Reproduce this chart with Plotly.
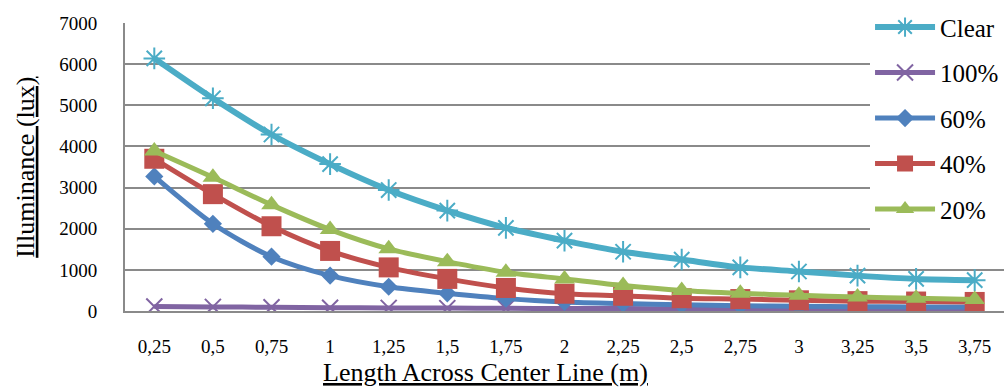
import plotly.graph_objects as go

categories = ["0,25", "0,5", "0,75", "1", "1,25", "1,5", "1,75", "2", "2,25",
              "2,5", "2,75", "3", "3,25", "3,5", "3,75"]
clear = [6140, 5170, 4290, 3570, 2940, 2440, 2020, 1710, 1440, 1250, 1060, 960, 860, 780, 750]
p100 = [110, 100, 90, 80, 75, 70, 65, 60, 60, 55, 55, 50, 50, 50, 50]
p60 = [3270, 2120, 1320, 860, 590, 430, 300, 220, 180, 150, 130, 115, 105, 100, 95]
p40 = [3700, 2840, 2060, 1460, 1060, 780, 560, 420, 370, 310, 290, 260, 240, 230, 220]
p20 = [3890, 3250, 2580, 1980, 1510, 1200, 940, 780, 620, 500, 430, 380, 340, 310, 280]

series = [
    ("Clear", clear, "#4BACC6", "asterisk-open", 18, 6),
    ("100%", p100, "#8064A2", "x-thin-open", 16, 5),
    ("60%", p60, "#4F81BD", "diamond", 14, 5),
    ("40%", p40, "#C0504D", "square", 20, 5),
    ("20%", p20, "#9BBB59", "triangle-up", 18, 5),
]

FONT = "Liberation Serif"

fig = go.Figure()
for i, (name, vals, col, sym, sz, lw) in enumerate(series):
    open_sym = sym.endswith("open")
    fig.add_trace(go.Scatter(
        x=categories, y=vals, name=name, mode="lines+markers",
        legendgroup=f"g{i}",
        line=dict(color=col, width=lw, shape="spline", smoothing=0.8),
        marker=dict(symbol=sym, size=sz, color=col,
                    line=dict(color=col, width=2 if open_sym else 0)),
    ))

fig.update_layout(
    width=1008, height=387,
    margin=dict(l=125, r=4, t=19, b=76),
    paper_bgcolor="white", plot_bgcolor="white",
    font=dict(family=FONT, color="black", size=19),
    showlegend=True,
    legend=dict(
        x=0.8476, xanchor="left", y=1.065, yanchor="top",
        bgcolor="white", borderwidth=0,
        font=dict(family=FONT, size=25, color="black"),
        tracegroupgap=10, itemwidth=60, maxheight=1,
    ),
    xaxis=dict(
        type="category", range=[-0.5, 14.5],
        showgrid=False, showline=True, linecolor="#8A8A8A", linewidth=2,
        ticks="outside", ticklen=17, tickcolor="rgba(0,0,0,0)",
        tickfont=dict(family=FONT, size=19, color="black"),
    ),
    yaxis=dict(
        range=[0, 7000], dtick=1000,
        showgrid=True, gridcolor="#8A8A8A", gridwidth=2,
        showline=True, linecolor="#8A8A8A", linewidth=2,
        zeroline=False,
        ticks="outside", ticklen=22, tickcolor="rgba(0,0,0,0)",
        tickfont=dict(family=FONT, size=19, color="black"),
    ),
    annotations=[
        dict(text="<u>Illuminance (lux)</u>", xref="paper", yref="paper",
             x=-0.114, y=0.5, textangle=-90, showarrow=False,
             xanchor="center", yanchor="middle",
             font=dict(family=FONT, size=26, color="black")),
        dict(text="<u>Length Across Center Line (m)</u>", xref="paper", yref="paper",
             x=0.41, y=-0.212, showarrow=False, xanchor="center", yanchor="middle",
             font=dict(family=FONT, size=26, color="black")),
    ],
)

fig.write_html("out.html")
